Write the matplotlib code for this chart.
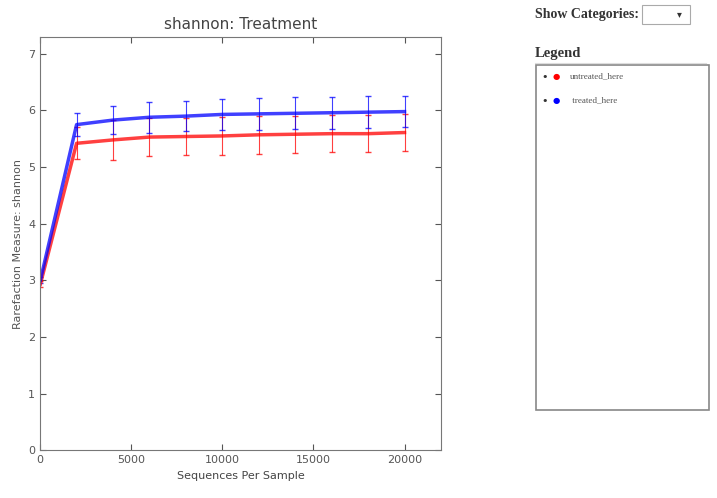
import matplotlib
matplotlib.use("Agg")
import matplotlib.pyplot as plt
from matplotlib.patches import Rectangle

# rarefaction data
seqs = [10, 2000, 4000, 6000, 8000, 10000, 12000, 14000, 16000, 18000, 20000]
red_mean = [2.93, 5.42, 5.48, 5.53, 5.54, 5.55, 5.57, 5.58, 5.59, 5.59, 5.61]
red_err = [0.05, 0.28, 0.35, 0.33, 0.33, 0.34, 0.34, 0.33, 0.33, 0.33, 0.33]
blue_mean = [3.0, 5.75, 5.83, 5.88, 5.90, 5.93, 5.94, 5.95, 5.96, 5.97, 5.98]
blue_err = [0.05, 0.2, 0.25, 0.27, 0.27, 0.28, 0.28, 0.28, 0.28, 0.28, 0.28]
legend_labels = ["untreated_here", " treated_here"]
legend_colors = ["red", "blue"]

fig = plt.figure(figsize=(7.17, 4.98), dpi=100)
ax = fig.add_axes([0.056, 0.096, 0.559, 0.83])

for mean, err, c in [(red_mean, red_err, "red"), (blue_mean, blue_err, "blue")]:
    ax.errorbar(seqs, mean, yerr=err, color=c, lw=2.5, elinewidth=0.8,
                capsize=2, alpha=0.75)

ax.set_xlim(0, 22000)
ax.set_ylim(0, 7.3)
ax.set_xticks([0, 5000, 10000, 15000, 20000])
ax.set_yticks(range(8))
ax.tick_params(direction="in", top=True, right=True, labelsize=8, colors="#555555", length=4)
for s in ax.spines.values():
    s.set_color("#777777")
ax.set_title("shannon: Treatment", fontsize=11, color="#444444")
ax.set_xlabel("Sequences Per Sample", fontsize=8, color="#444444")
ax.set_ylabel("Rarefaction Measure: shannon", fontsize=8, color="#555555")

# html-ish legend panel on the right
fig.text(0.746, 0.97, "Show Categories:", family="Liberation Serif", weight="bold",
         fontsize=10, va="center", color="#333333")
fig.patches.append(Rectangle((0.896, 0.952), 0.066, 0.038, transform=fig.transFigure,
                             fill=False, ec="#aaaaaa", lw=0.8))
fig.text(0.947, 0.971, "\u25be", fontsize=7, va="center", ha="center", color="#333333")
fig.text(0.746, 0.893, "Legend", family="Liberation Serif", weight="bold",
         fontsize=10.5, va="center", color="#333333")
fig.add_artist(plt.Line2D([0.746, 0.985], [0.873, 0.873], transform=fig.transFigure,
                          color="#dddddd", lw=0.8))
fig.patches.append(Rectangle((0.747, 0.177), 0.242, 0.693, transform=fig.transFigure,
                             fill=False, ec="#888888", lw=1.2))
for i, (lab, c) in enumerate(zip(legend_labels, legend_colors)):
    y = 0.846 - i * 0.048
    fig.text(0.755, y, "\u2022", fontsize=8, va="center", color="#333333")
    fig.text(0.770, y, "\u25cf", fontsize=6, va="center", color=c)
    fig.text(0.795, y, lab, family="Liberation Serif", fontsize=6.5, va="center",
             color="#555555")

fig.savefig("out.png", dpi=100)
